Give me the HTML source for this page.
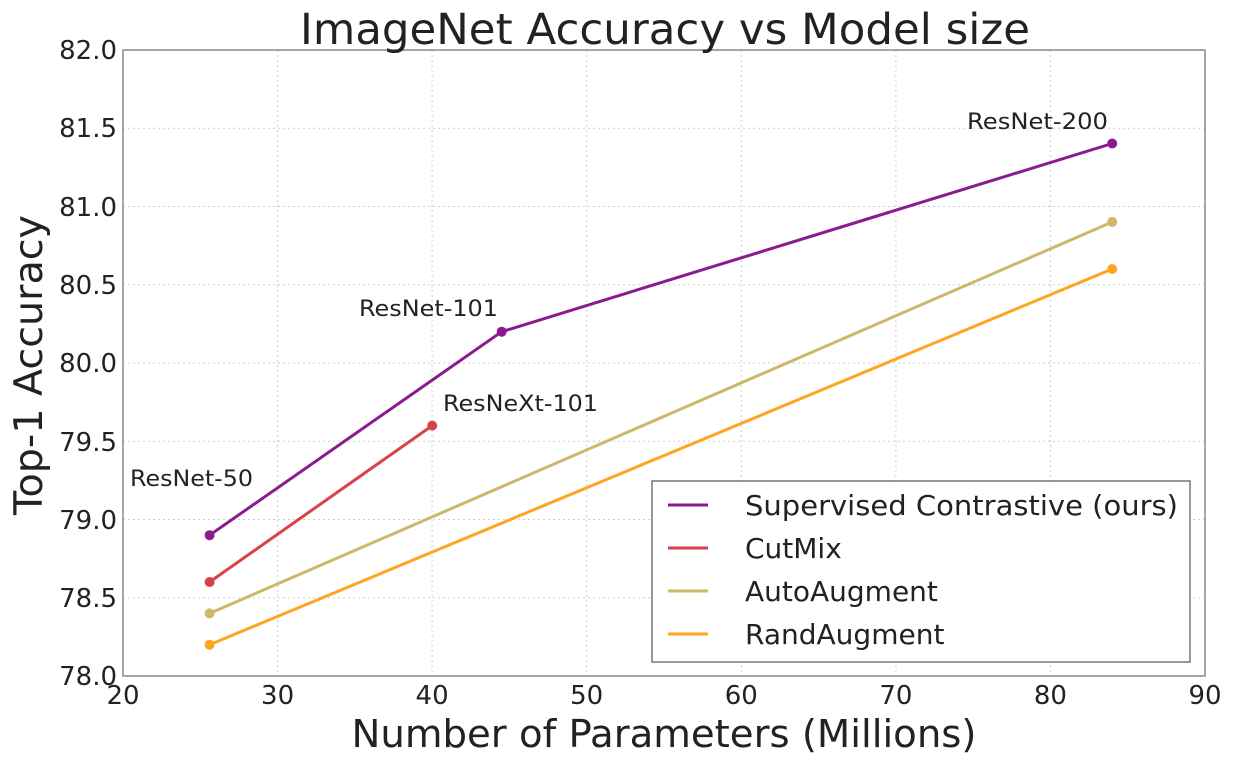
<!DOCTYPE html>
<html><head><meta charset="utf-8"><style>body{margin:0;background:#fff}svg{display:block}text{font-family:"DejaVu Sans","Liberation Sans",sans-serif;fill:#222}</style></head><body>
<svg width="1238" height="766" viewBox="0 0 1238 766">
<g stroke="#cfcfcf" stroke-dasharray="2,3" stroke-width="1">
<line x1="277.6" y1="50" x2="277.6" y2="676"/><line x1="432.1" y1="50" x2="432.1" y2="676"/><line x1="586.7" y1="50" x2="586.7" y2="676"/><line x1="741.3" y1="50" x2="741.3" y2="676"/><line x1="895.9" y1="50" x2="895.9" y2="676"/><line x1="1050.4" y1="50" x2="1050.4" y2="676"/>
<line x1="123" y1="128.3" x2="1205" y2="128.3"/><line x1="123" y1="206.5" x2="1205" y2="206.5"/><line x1="123" y1="284.8" x2="1205" y2="284.8"/><line x1="123" y1="363" x2="1205" y2="363"/><line x1="123" y1="441.3" x2="1205" y2="441.3"/><line x1="123" y1="519.5" x2="1205" y2="519.5"/><line x1="123" y1="597.8" x2="1205" y2="597.8"/>
</g>
<rect x="123" y="50" width="1082" height="626" fill="none" stroke="#888" stroke-width="1.5"/>
<g font-size="26" text-anchor="middle">
<text x="123" y="704">20</text><text x="277.6" y="704">30</text><text x="432.1" y="704">40</text><text x="586.7" y="704">50</text><text x="741.3" y="704">60</text><text x="895.9" y="704">70</text><text x="1050.4" y="704">80</text><text x="1205" y="704">90</text>
</g>
<g font-size="26" text-anchor="end">
<text x="117" y="685">78.0</text><text x="117" y="607">78.5</text><text x="117" y="529">79.0</text><text x="117" y="451">79.5</text><text x="117" y="372">80.0</text><text x="117" y="294">80.5</text><text x="117" y="216">81.0</text><text x="117" y="137">81.5</text><text x="117" y="59">82.0</text>
</g>
<text x="665" y="44" font-size="43" text-anchor="middle" textLength="730" lengthAdjust="spacingAndGlyphs">ImageNet Accuracy vs Model size</text>
<text x="664" y="747" font-size="38" text-anchor="middle" textLength="625" lengthAdjust="spacingAndGlyphs">Number of Parameters (Millions)</text>
<text transform="translate(42,365) rotate(-90)" font-size="39" text-anchor="middle" textLength="300" lengthAdjust="spacingAndGlyphs">Top-1 Accuracy</text>
<g stroke-width="3" fill="none">
<polyline points="209.6,644.7 1112.2,269" stroke="#ffa51f"/>
<polyline points="209.6,613.4 1112.2,222" stroke="#cdb86a"/>
<polyline points="209.6,582 432.2,425.6" stroke="#d9414a"/>
<polyline points="209.6,535.2 501.7,331.7 1112.2,143.5" stroke="#8b1a8e"/>
</g>
<g>
<circle cx="209.6" cy="644.7" r="5" fill="#ffa51f"/><circle cx="1112.2" cy="269" r="5" fill="#ffa51f"/>
<circle cx="209.6" cy="613.4" r="5" fill="#cdb86a"/><circle cx="1112.2" cy="222" r="5" fill="#cdb86a"/>
<circle cx="209.6" cy="582" r="5" fill="#d9414a"/><circle cx="432.2" cy="425.6" r="5" fill="#d9414a"/>
<circle cx="209.6" cy="535.2" r="5" fill="#8b1a8e"/><circle cx="501.7" cy="331.7" r="5" fill="#8b1a8e"/><circle cx="1112.2" cy="143.5" r="5" fill="#8b1a8e"/>
</g>
<g font-size="22">
<text x="130" y="486" textLength="123" lengthAdjust="spacingAndGlyphs">ResNet-50</text>
<text x="359" y="316" textLength="139" lengthAdjust="spacingAndGlyphs">ResNet-101</text>
<text x="443" y="411" textLength="155" lengthAdjust="spacingAndGlyphs">ResNeXt-101</text>
<text x="967" y="129" textLength="141" lengthAdjust="spacingAndGlyphs">ResNet-200</text>
</g>
<rect x="652" y="481" width="538" height="181" fill="#fff" stroke="#777" stroke-width="1.5"/>
<g stroke-width="3">
<line x1="668" y1="505" x2="708" y2="505" stroke="#8b1a8e"/>
<line x1="668" y1="548" x2="708" y2="548" stroke="#d9414a"/>
<line x1="668" y1="591" x2="708" y2="591" stroke="#cdb86a"/>
<line x1="668" y1="634" x2="708" y2="634" stroke="#ffa51f"/>
</g>
<g font-size="28">
<text x="745" y="515" textLength="433" lengthAdjust="spacingAndGlyphs">Supervised Contrastive (ours)</text>
<text x="745" y="558">CutMix</text><text x="745" y="601">AutoAugment</text><text x="745" y="644">RandAugment</text>
</g>
</svg>
</body></html>
